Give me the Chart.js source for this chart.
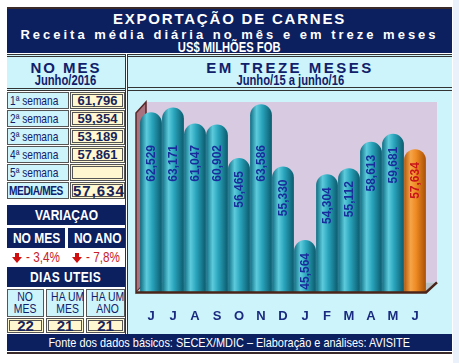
<!DOCTYPE html>
<html>
<head>
<meta charset="utf-8">
<script src="https://cdn.jsdelivr.net/npm/chart.js@4/dist/chart.umd.min.js"></script>
<style>
  body { margin:0; width:459px; height:363px; background:#fff; position:relative; overflow:hidden;
         font-family:"Liberation Sans", Arial, sans-serif; }
  .abs { position:absolute; box-sizing:border-box; white-space:nowrap; }
  .navy { background:#0c1f5f; color:#fff; }
  .cyan { background:#cdf4fa; }
  .yel { background:#fff7cf; border:3px double #555; }
  .c { text-align:center; }
  .n { display:inline-block; transform:scaleX(0.8); transform-origin:center; }
  .nl { display:inline-block; transform:scaleX(0.78); transform-origin:left; }
  .lbl { color:#10206a; font-size:13px; line-height:15px; padding-left:2px; border:1px solid #555; }
  .val { color:#18245a; font-weight:bold; font-size:13px; line-height:11px; text-align:center; }
</style>
</head>
<body>
<div class="abs" style="left:453px;top:0;width:6px;height:363px;background:#eaf1fa"></div>

<!-- header -->
<div class="abs navy" style="left:7px;top:7px;width:445px;height:46px;border-top:2px solid #3a2a2a;"></div>
<div class="abs c" style="left:7px;top:10px;width:445px;color:#fff;font-weight:bold;font-size:15px;line-height:17px;letter-spacing:1.8px">EXPORTAÇÃO DE CARNES</div>
<div class="abs c" style="left:7px;top:27px;width:445px;color:#fff;font-weight:bold;font-size:13px;line-height:15px;letter-spacing:3px">Receita média diária no mês e em treze meses</div>
<div class="abs c" style="left:7px;top:40px;width:445px;color:#fff;font-weight:bold;font-size:14px;line-height:15px"><span class="n">US$ MILHÕES FOB</span></div>

<!-- left panel header -->
<div class="abs cyan" style="left:7px;top:54px;width:118px;height:37px;border-top:3px double #333;border-bottom:3px double #333"></div>
<div class="abs c" style="left:7px;top:59px;width:118px;color:#10206a;font-weight:bold;font-size:15px;line-height:17px;letter-spacing:2px">NO MES</div>
<div class="abs c" style="left:7px;top:73px;width:118px;color:#10206a;font-weight:bold;font-size:14px;line-height:15px"><span class="n">Junho/2016</span></div>

<div id="weeks"></div>

<!-- variacao -->
<div class="abs navy c" style="left:7px;top:205px;width:118px;height:20px;font-weight:bold;font-size:15px;line-height:20px"><span class="n">VARIAÇAO</span></div>
<div class="abs navy c" style="left:7px;top:228px;width:58px;height:20px;font-weight:bold;font-size:15px;line-height:20px"><span class="n">NO MES</span></div>
<div class="abs navy c" style="left:68px;top:228px;width:57px;height:20px;font-weight:bold;font-size:15px;line-height:20px"><span class="n">NO ANO</span></div>
<div class="abs" style="left:12px;top:249px;width:55px;height:16px;color:#c8202a;font-size:15px;line-height:16px">
  <svg width="10" height="10" viewBox="0 0 10 10" style="vertical-align:-1px"><path d="M3 0h4v4h3L5 10 0 4h3z" fill="#d01010"/></svg> <span class="nl">- 3,4%</span></div>
<div class="abs" style="left:72px;top:249px;width:55px;height:16px;color:#c8202a;font-size:15px;line-height:16px">
  <svg width="10" height="10" viewBox="0 0 10 10" style="vertical-align:-1px"><path d="M3 0h4v4h3L5 10 0 4h3z" fill="#d01010"/></svg> <span class="nl">- 7,8%</span></div>

<!-- dias uteis -->
<div class="abs navy c" style="left:7px;top:267px;width:118px;height:20px;font-weight:bold;font-size:15px;line-height:20px;letter-spacing:0.5px"><span class="n">DIAS UTEIS</span></div>
<div class="abs cyan c" style="left:7px;top:289px;width:37px;height:28px;border:1px solid #555;color:#10206a;font-size:13px;line-height:12px;padding-top:1px"><span class="n">NO<br>MES</span></div>
<div class="abs cyan c" style="left:46px;top:289px;width:38px;height:28px;border:1px solid #555;color:#10206a;font-size:13px;line-height:12px;padding-top:1px"><span class="n">HA UM<br>MES</span></div>
<div class="abs cyan c" style="left:86px;top:289px;width:39px;height:28px;border:1px solid #555;color:#10206a;font-size:13px;line-height:12px;padding-top:1px"><span class="n">HA UM<br>ANO</span></div>
<div class="abs yel val" style="left:7px;top:318px;width:37px;height:15px;font-size:15px;line-height:10px">22</div>
<div class="abs yel val" style="left:46px;top:318px;width:38px;height:15px;font-size:15px;line-height:10px">21</div>
<div class="abs yel val" style="left:86px;top:318px;width:39px;height:15px;font-size:15px;line-height:10px">21</div>

<!-- divider -->
<div class="abs" style="left:125px;top:54px;width:3px;height:280px;border-left:1px solid #333;border-right:1px solid #333"></div>

<!-- right panel -->
<div class="abs cyan" style="left:128px;top:54px;width:324px;height:280px;border-top:3px double #333"></div>
<div class="abs" style="left:128px;top:87px;width:324px;height:4px;border-top:1px solid #333;border-bottom:1px solid #333"></div>
<div class="abs c" style="left:128px;top:59px;width:324px;color:#10206a;font-weight:bold;font-size:15px;line-height:17px;letter-spacing:2.5px">EM TREZE MESES</div>
<div class="abs c" style="left:128px;top:73px;width:324px;color:#10206a;font-weight:bold;font-size:14px;line-height:15px"><span class="n">Junho/15 a junho/16</span></div>
<canvas id="chart" class="abs" width="325" height="240" style="left:127px;top:93px"></canvas>

<!-- footer -->
<div class="abs navy c" style="left:7px;top:334px;width:445px;height:17px;font-size:13px;line-height:17px"><span style="display:inline-block;transform:scaleX(0.84)">Fonte dos dados básicos: SECEX/MDIC – Elaboração e análises: AVISITE</span></div>
<div class="abs" style="left:7px;top:352px;width:445px;height:2px;background:#3a2a2a"></div>

<script>
// data
const months = ['J', 'J', 'A', 'S', 'O', 'N', 'D', 'J', 'F', 'M', 'A', 'M', 'J'];
const dailyAvg = [62.529, 63.171, 61.047, 60.902, 56.465, 63.586, 55.330, 45.564, 54.304, 55.112, 58.613, 59.681, 57.634];
const weekLabels = ['1ª semana', '2ª semana', '3ª semana', '4ª semana', '5ª semana'];
const weekValues = ['61,796', '59,354', '53,189', '57,861', ''];
const monthAvg = '57,634';

// left table rows
let html = '';
weekLabels.forEach(function(lb, i) {
  const top = 92 + i * 18;
  html += '<div class="abs cyan lbl" style="left:7px;top:' + top + 'px;width:62px;height:17px"><span class="nl">' + lb + '</span></div>';
  html += '<div class="abs yel val" style="left:70px;top:' + top + 'px;width:55px;height:17px">' + weekValues[i] + '</div>';
});
html += '<div class="abs cyan lbl" style="left:7px;top:182px;width:62px;height:17px;font-weight:bold;font-size:13px;letter-spacing:-0.5px;padding-left:1px"><span class="nl">MEDIA/MES</span></div>';
html += '<div class="abs yel val" style="left:70px;top:182px;width:55px;height:17px;font-size:15px;letter-spacing:1px">' + monthAvg + '</div>';
document.getElementById('weeks').innerHTML = html;

const fmt = v => v.toFixed(3).replace('.', ',');
const lastIdx = dailyAvg.length - 1;

function barFill(ctx) {
  const chart = ctx.chart;
  const orange = ctx.dataIndex === lastIdx;
  if (!chart.chartArea || ctx.dataIndex === undefined || !chart.scales.x) return orange ? '#f08a20' : '#2aa0b8';
  const xs = chart.scales.x;
  const x = xs.getPixelForValue(ctx.dataIndex);
  const w = xs.width / months.length * 0.99;
  const g = chart.ctx.createLinearGradient(x - w / 2, 0, x + w / 2, 0);
  if (orange) {
    g.addColorStop(0, '#b35a0c');
    g.addColorStop(0.3, '#f6a448');
    g.addColorStop(0.55, '#ee8a22');
    g.addColorStop(1, '#a85008');
  } else {
    g.addColorStop(0, '#0f6d82');
    g.addColorStop(0.3, '#5ccbdc');
    g.addColorStop(0.55, '#2aa5bc');
    g.addColorStop(1, '#0b5a6c');
  }
  return g;
}

// 3d walls + floor behind the bars
const walls = {
  id: 'walls',
  beforeDatasetsDraw(chart) {
    const c = chart.ctx, a = chart.chartArea;
    c.save();
    c.fillStyle = '#d8cbe1';
    c.fillRect(a.left + 6, a.top, a.right - a.left + 5, a.bottom - a.top - 10);
    // left wall
    c.beginPath();
    c.moveTo(a.left - 4, a.top + 11);
    c.lineTo(a.left + 6, a.top);
    c.lineTo(a.left + 6, a.bottom - 10);
    c.lineTo(a.left - 4, a.bottom);
    c.closePath();
    c.fillStyle = '#a8727e';
    c.fill();
    c.strokeStyle = '#5a2626';
    c.lineWidth = 1.5;
    c.stroke();
    // floor
    c.beginPath();
    c.moveTo(a.left - 4, a.bottom);
    c.lineTo(a.right, a.bottom);
    c.lineTo(a.right + 11, a.bottom - 10);
    c.lineTo(a.left + 6, a.bottom - 10);
    c.closePath();
    c.fillStyle = '#b9c2c8';
    c.fill();
    c.restore();
  },
  afterDatasetsDraw(chart) {
    const c = chart.ctx, a = chart.chartArea;
    c.save();
    c.strokeStyle = '#4a2418';
    c.lineWidth = 2.5;
    c.beginPath();
    c.moveTo(a.left - 4, a.bottom);
    c.lineTo(a.right, a.bottom);
    c.lineTo(a.right + 11, a.bottom - 10);
    c.stroke();
    // value labels, vertical inside bars
    const meta = chart.getDatasetMeta(0);
    c.font = 'bold 12px "Liberation Sans", Arial';
    c.textAlign = 'right';
    c.textBaseline = 'middle';
    meta.data.forEach(function(el, i) {
      const yEnd = Math.max(el.y + 13, a.top + 43);
      c.save();
      c.translate(el.x + 1, yEnd);
      c.rotate(-Math.PI / 2);
      c.fillStyle = i === lastIdx ? '#c8141a' : '#1a2c9c';
      c.fillText(fmt(dailyAvg[i]), 0, 0);
      c.restore();
    });
    c.restore();
  }
};

new Chart(document.getElementById('chart'), {
  type: 'bar',
  data: {
    labels: months,
    datasets: [{
      data: dailyAvg,
      backgroundColor: barFill,
      borderWidth: 0,
      borderRadius: { topLeft: 11, topRight: 11, bottomLeft: 0, bottomRight: 0 },
      borderSkipped: false,
      categoryPercentage: 1,
      barPercentage: 0.99
    }]
  },
  options: {
    responsive: false,
    animation: false,
    devicePixelRatio: 1,
    layout: { padding: { left: 13, right: 26, top: 9, bottom: 1 } },
    plugins: { legend: { display: false }, tooltip: { enabled: false } },
    scales: {
      x: {
        grid: { display: false },
        border: { display: false },
        ticks: { color: '#1a2a80', font: { family: '"Liberation Sans", Arial', weight: 'bold', size: 13 }, padding: 8, autoSkip: false, maxRotation: 0 }
      },
      y: { display: false, min: 38.6, max: 63.9 }
    }
  },
  plugins: [walls]
});
</script>
</body>
</html>
